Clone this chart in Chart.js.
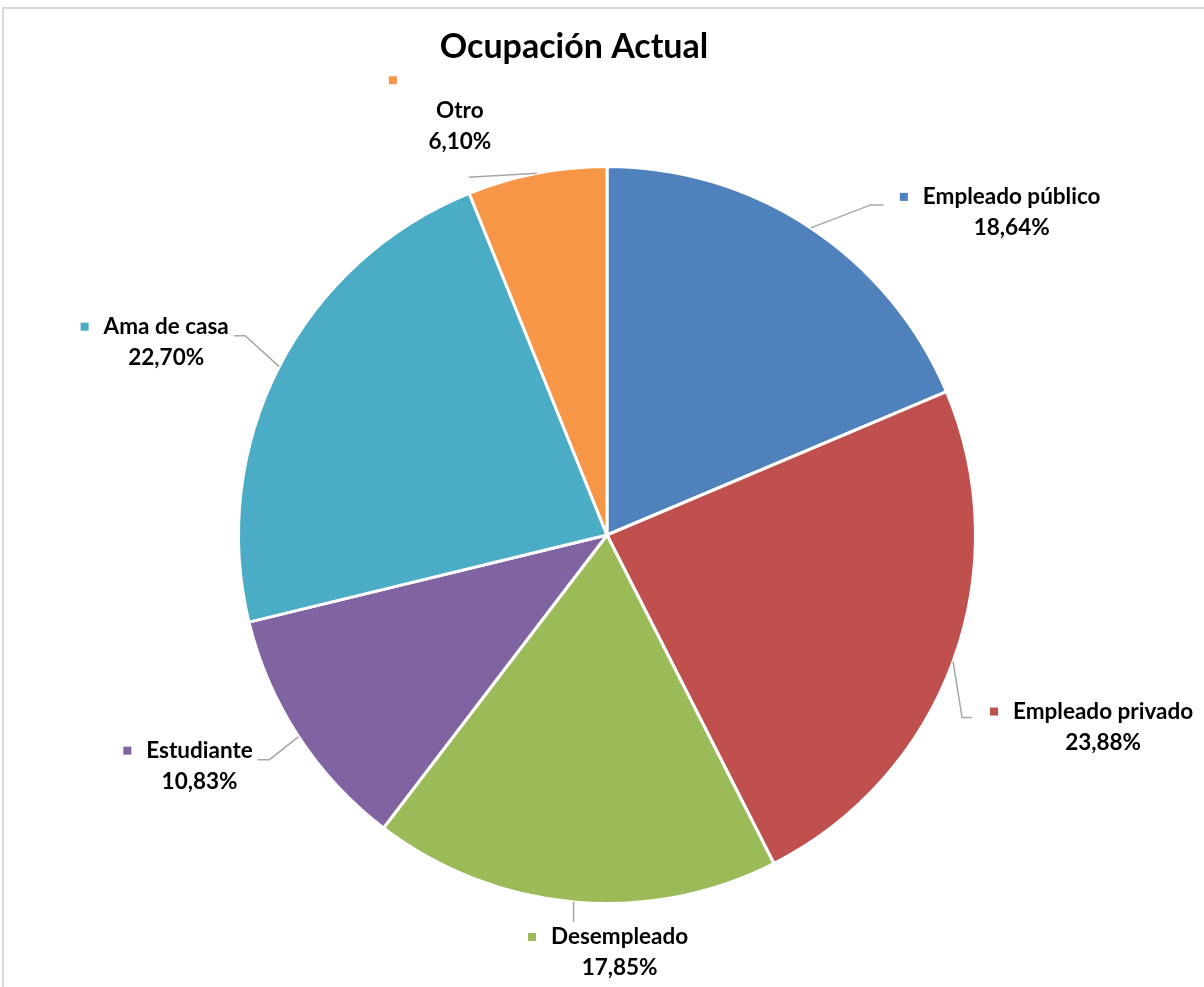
<!DOCTYPE html>
<html>
<head>
<meta charset="utf-8">
<script src="https://cdn.jsdelivr.net/npm/chart.js@4"></script>
<style>
  body { margin: 0; background: #fff; }
  #ocupacionChart { display: block; }
</style>
</head>
<body>
<canvas id="ocupacionChart" width="1204" height="987"></canvas>
<script>
var chartTitle = 'Ocupación Actual';
var ocupaciones = ['Empleado público', 'Empleado privado', 'Desempleado', 'Estudiante', 'Ama de casa', 'Otro'];
var porcentajes = [18.64, 23.88, 17.85, 10.83, 22.70, 6.10];
var colores = ['#4F81BD', '#C0504D', '#9BBB59', '#8064A2', '#4BACC6', '#F79646'];

// label placement relative to each slice's outer midpoint
var etiquetas = [
    { name: [201, -31], elbow: [60, -23], end: [73, -23] },
    { name: [150, 50], elbow: [9, 56], end: [19, 56] },
    { name: [46, 35], elbow: [0, 20], end: [0, 20] },
    { name: [-99, 14], elbow: [-29, 23], end: [-41, 23] },
    { name: [-113, -40], elbow: [-34, -31], end: [-45, -31] },
    { name: [-77, -62], elbow: [-68, 4], end: [-68, 4], wrap: true }
];

var labelFont = 'bold 22.5px Lato';
var titleFont = 'bold 34px Lato';

function formatPct(v) {
    return v.toFixed(2).replace('.', ',') + '%';
}

var etiquetasPlugin = {
    id: 'etiquetas',
    beforeDraw: function (chart) {
        var ctx = chart.ctx;
        ctx.save();
        ctx.strokeStyle = '#D9D9D9';
        ctx.lineWidth = 2;
        ctx.strokeRect(3, 8, 1400, 1200);
        ctx.restore();
    },
    afterDraw: function (chart) {
        var ctx = chart.ctx;
        var meta = chart.getDatasetMeta(0);
        ctx.save();

        ctx.fillStyle = '#000';
        ctx.font = titleFont;
        ctx.textAlign = 'center';
        ctx.textBaseline = 'middle';
        ctx.fillText(chartTitle, 574, 47);

        meta.data.forEach(function (arc, i) {
            var p = arc.getProps(['x', 'y', 'startAngle', 'endAngle', 'outerRadius'], true);
            var mid = (p.startAngle + p.endAngle) / 2;
            var ax = p.x + Math.cos(mid) * p.outerRadius;
            var ay = p.y + Math.sin(mid) * p.outerRadius;
            var lay = etiquetas[i];

            ctx.strokeStyle = '#A6A6A6';
            ctx.lineWidth = 1.5;
            ctx.beginPath();
            ctx.moveTo(ax, ay);
            ctx.lineTo(ax + lay.elbow[0], ay + lay.elbow[1]);
            ctx.lineTo(ax + lay.end[0], ay + lay.end[1]);
            ctx.stroke();

            var nx = ax + lay.name[0];
            var ny = ay + lay.name[1];
            ctx.font = labelFont;
            ctx.fillStyle = '#000';
            ctx.textAlign = 'center';
            ctx.textBaseline = 'middle';
            ctx.fillText(ocupaciones[i], nx, ny);
            ctx.fillText(formatPct(porcentajes[i]), nx, ny + 31);

            var w = ctx.measureText(ocupaciones[i]).width;
            ctx.fillStyle = colores[i];
            if (lay.wrap) {
                ctx.fillRect(nx - 71, ny - 35, 8, 8);
            } else {
                ctx.fillRect(nx - w / 2 - 23, ny - 4, 8, 8);
            }
        });
        ctx.restore();
    }
};

var ctx = document.getElementById('ocupacionChart').getContext('2d');
var ocupacionChart;

function chart() {
    if (ocupacionChart) {
        ocupacionChart.destroy();
    }
    ocupacionChart = new Chart(ctx, {
        type: 'pie',
        data: {
            labels: ocupaciones,
            datasets: [{
                data: porcentajes,
                backgroundColor: colores,
                borderColor: '#ffffff',
                borderWidth: 3,
                hoverOffset: 0
            }]
        },
        options: {
            responsive: false,
            animation: false,
            devicePixelRatio: 1,
            layout: {
                padding: { left: 237, right: 227, top: 165, bottom: 82 }
            },
            plugins: {
                legend: { display: false },
                title: { display: false },
                tooltip: { enabled: false }
            }
        },
        plugins: [etiquetasPlugin]
    });
}

Promise.all([document.fonts.load(labelFont), document.fonts.load(titleFont)]).then(chart, chart);
</script>
</body>
</html>
